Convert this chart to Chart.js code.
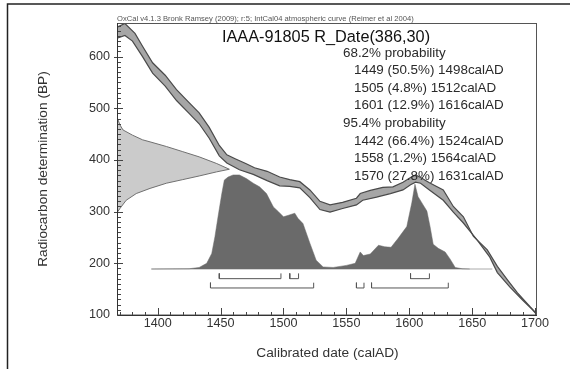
<!DOCTYPE html>
<html><head><meta charset="utf-8">
<script src="https://cdn.jsdelivr.net/npm/chart.js@4"></script>
<style>html,body{margin:0;padding:0;background:#fff;}canvas{display:block;}</style>
</head><body>
<canvas id="c" width="570" height="369"></canvas>
<script>
// ---------- data ----------
const headerText = "OxCal v4.1.3 Bronk Ramsey (2009); r:5; IntCal04 atmospheric curve (Reimer et al 2004)";
const sampleTitle = "IAAA-91805 R_Date(386,30)";
const xTicks = [1400, 1450, 1500, 1550, 1600, 1650, 1700];
const yTicks = [100, 200, 300, 400, 500, 600];
// calibrated ranges: [from, to, percent]
const range68 = [[1449, 1498, 50.5], [1505, 1512, 4.8], [1601, 1616, 12.9]];
const range95 = [[1442, 1524, 66.4], [1558, 1564, 1.2], [1570, 1631, 27.8]];
// IntCal04 band: [calAD, BP]
const calUpper = [[1366,655],[1374,664],[1382,645],[1388,620],[1396,588],[1406,564],[1415,536],[1425,511],[1433,491],[1441,463],[1449,428],[1455,410],[1462,402],[1470,393],[1477,385],[1487,378],[1497,367],[1505,362],[1513,358],[1521,342],[1529,320],[1537,313],[1547,318],[1558,326],[1561,335],[1569,341],[1579,347],[1587,348],[1595,357],[1601,366],[1605,371],[1609,366],[1616,356],[1627,342],[1635,310],[1643,290],[1651,252],[1662,226],[1670,194],[1678,168],[1686,143],[1696,116],[1703,98]];
const calLower = [[1366,634],[1374,641],[1380,630],[1388,600],[1396,568],[1406,543],[1415,515],[1425,490],[1433,470],[1441,442],[1449,408],[1455,394],[1465,381],[1476,372],[1487,360],[1497,350],[1505,349],[1513,346],[1521,327],[1529,304],[1537,299],[1547,306],[1558,313],[1563,322],[1574,328],[1585,335],[1595,342],[1601,352],[1605,357],[1609,355],[1616,342],[1627,322],[1635,299],[1643,278],[1654,245],[1664,212],[1670,182],[1680,154],[1690,129],[1698,110],[1703,96]];
// radiocarbon date profile on the BP axis: [calAD extent, BP]
const dateUpper = [[1368,481],[1370,468],[1372.5,458],[1380,448],[1388,439],[1394,435],[1407,426],[1420,416],[1433,406],[1447,393],[1457,382]];
const dateLower = [[1368,299],[1370,306],[1375,322],[1383,335],[1394,345],[1407,355],[1420,362],[1433,369],[1447,377],[1457,382]];
// calibrated probability distribution: [calAD, plotted height]
const probDist = [[1395,189],[1425,189.5],[1433,192],[1439,200],[1443,219],[1445.5,251],[1448,290],[1451,335],[1453,361],[1456,367],[1460,371],[1465,371],[1470.5,364],[1476,355],[1481,348],[1486.5,335],[1492,309],[1496,300],[1500,290],[1504,293],[1509,297],[1511.5,287],[1515.5,277],[1521,239],[1526,206],[1531.5,193],[1539.5,192],[1550,196],[1557,200],[1561,222],[1563.5,215],[1569,218],[1575.5,235],[1580.5,232],[1585.5,231],[1591,248],[1598,271],[1602,317],[1604.5,353],[1607,329],[1611,313],[1614,301],[1616.5,271],[1619,237],[1623,229],[1628.5,222],[1632.5,208],[1636.5,192],[1642,189.5],[1648,189]];
const baselineSpan = [1395, 1666];

// ---------- build ----------
const BASE = 189;
const pts = arr => arr.map(p => ({x: p[0], y: p[1]}));
function bracketPts(ranges, lineY, topY) {
  const out = [];
  ranges.forEach(r => {
    out.push({x: r[0], y: topY}, {x: r[0], y: lineY}, {x: r[1], y: lineY}, {x: r[1], y: topY}, {x: r[1], y: null});
  });
  return out;
}
const FONT = "'Liberation Sans', Arial, sans-serif";

const deco = {
  id: 'deco',
  afterDraw(chart) {
    const {ctx, chartArea: a, scales: {x, y}} = chart;
    ctx.save();
    // ticks
    ctx.strokeStyle = '#444'; ctx.lineWidth = 1;
    ctx.beginPath();
    for (let v = 1370; v <= 1700; v += 10) {
      const px = Math.round(x.getPixelForValue(v)) + 0.5;
      const major = v % 50 === 0;
      ctx.moveTo(px, a.bottom); ctx.lineTo(px, a.bottom - (major ? 7 : 3));
    }
    for (let v = 110; v <= 660; v += 10) {
      const py = Math.round(y.getPixelForValue(v)) + 0.5;
      const major = v % 100 === 0;
      ctx.moveTo(a.left - (major ? 4 : 0), py); ctx.lineTo(a.left + (major ? 5 : 3), py);
    }
    ctx.stroke();
    // plot box
    ctx.strokeStyle = '#555';
    ctx.strokeRect(a.left - 0.5, a.top + 0.5, a.right - a.left, a.bottom - a.top - 0.5);
    ctx.strokeStyle = '#333';
    ctx.beginPath();
    ctx.moveTo(a.left - 0.5, a.top); ctx.lineTo(a.left - 0.5, a.bottom + 0.5); ctx.lineTo(a.right, a.bottom + 0.5);
    ctx.stroke();
    // outer frame
    ctx.strokeStyle = '#222'; ctx.lineWidth = 1.5;
    ctx.beginPath();
    ctx.moveTo(7.5, 369); ctx.lineTo(7.5, 4); ctx.lineTo(570, 4);
    ctx.stroke();
    // header
    ctx.fillStyle = '#555';
    ctx.font = '7.6px ' + FONT;
    ctx.textBaseline = 'alphabetic';
    ctx.textAlign = 'left';
    ctx.fillText(headerText, a.left - 1, 20.5);
    // title
    ctx.fillStyle = '#111';
    ctx.font = '16.3px ' + FONT;
    ctx.textAlign = 'center';
    ctx.fillText(sampleTitle, 326, 42);
    // probability text
    ctx.fillStyle = '#2a2a2a';
    ctx.font = '13.4px ' + FONT;
    ctx.textAlign = 'left';
    const lines = [];
    lines.push(['68.2% probability', 343]);
    range68.forEach(r => lines.push([`${r[0]} (${r[2]}%) ${r[1]}calAD`, 354]));
    lines.push(['95.4% probability', 343]);
    range95.forEach(r => lines.push([`${r[0]} (${r[2]}%) ${r[1]}calAD`, 354]));
    lines.forEach((l, i) => ctx.fillText(l[0], l[1], 56.8 + i * 17.55));
    ctx.restore();
  }
};

new Chart(document.getElementById('c'), {
  type: 'line',
  data: {
    datasets: [
      {label: 'ranges', data: [...bracketPts(range68, 170.3, 180.5), ...bracketPts(range95, 152.3, 162.5)],
       borderColor: '#555', borderWidth: 1, pointRadius: 0, fill: false, spanGaps: false},
      {label: 'calLower', data: pts(calLower), borderColor: '#4a4a4a', borderWidth: 1.2, pointRadius: 0, fill: false},
      {label: 'calUpper', data: pts(calUpper), borderColor: '#4a4a4a', borderWidth: 1.2, pointRadius: 0,
       fill: '-1', backgroundColor: '#a6a6a6'},
      {label: 'dist', data: pts(probDist), borderColor: '#6a6a6a', borderWidth: 0.5, pointRadius: 0,
       fill: {value: BASE}, backgroundColor: '#6a6a6a'},
      {label: 'base', data: [{x: baselineSpan[0], y: BASE}, {x: baselineSpan[1], y: BASE}],
       borderColor: '#aaa', borderWidth: 1, pointRadius: 0, fill: false},
      {label: 'dateLower', data: pts(dateLower), borderColor: '#707070', borderWidth: 1, pointRadius: 0, fill: false},
      {label: 'dateUpper', data: pts(dateUpper), borderColor: '#707070', borderWidth: 1, pointRadius: 0,
       fill: '-1', backgroundColor: '#cbcbcb'}
    ]
  },
  options: {
    responsive: false, animation: false, devicePixelRatio: 1,
    layout: {padding: {top: 23, right: 33, left: 0, bottom: 0}},
    elements: {line: {tension: 0}},
    plugins: {legend: {display: false}, tooltip: {enabled: false}, title: {display: false}},
    scales: {
      x: {
        type: 'linear', min: 1368.5, max: 1701.5,
        afterBuildTicks: s => { s.ticks = xTicks.map(v => ({value: v})); },
        afterFit: s => { s.height = 54; },
        grid: {display: false, drawTicks: false}, border: {display: false},
        ticks: {padding: 1, color: '#333', font: {family: FONT, size: 12.6}, maxRotation: 0, autoSkip: false,
                callback: v => String(v)},
        title: {display: true, text: 'Calibrated date (calAD)', color: '#333', font: {family: FONT, size: 13.7}, padding: {top: 0, bottom: 8}}
      },
      y: {
        type: 'linear', min: 100, max: 665,
        afterBuildTicks: s => { s.ticks = yTicks.map(v => ({value: v})); },
        afterFit: s => { s.width = 118; },
        grid: {display: false, drawTicks: false}, border: {display: false},
        ticks: {padding: 8, color: '#333', font: {family: FONT, size: 12.6}, callback: v => String(v)},
        title: {display: true, text: 'Radiocarbon determination (BP)', color: '#333', font: {family: FONT, size: 13.7}, padding: {top: 35, bottom: 0}}
      }
    }
  },
  plugins: [deco]
});
</script>
</body></html>
